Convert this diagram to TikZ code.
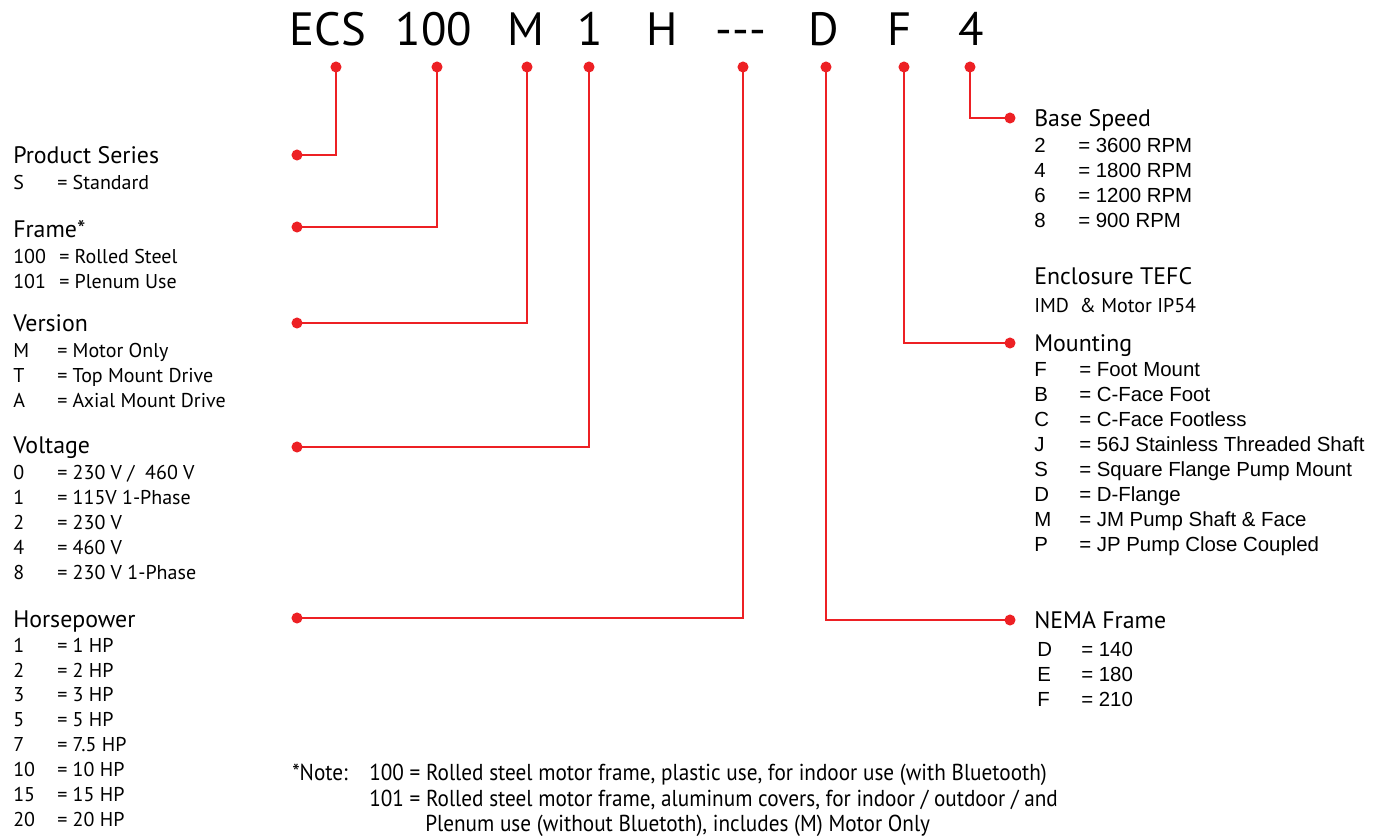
\documentclass[tikz,border=0pt]{standalone}
\usepackage{fontspec}
\setmainfont{PT Sans}
\newfontfamily\arialf{Liberation Sans}
\newfontfamily\condf[FakeStretch=0.92]{PT Sans}
\definecolor{redc}{HTML}{ED2024}
\begin{document}
\begin{tikzpicture}[x=0.75pt,y=-0.75pt,
 dot/.style={circle,fill=redc,inner sep=0pt,minimum size=8.3pt},
 conn/.style={draw=redc,line width=1.6pt},
 code/.style={anchor=base,inner sep=0pt,font=\fontsize{35}{40}\selectfont},
 head/.style={anchor=base west,inner sep=0pt,font=\fontsize{17.9}{20}\selectfont},
 item/.style={anchor=base west,inner sep=0pt,font=\fontsize{15}{17}\selectfont},
 aitem/.style={anchor=base west,inner sep=0pt,font=\arialf\fontsize{15.3}{18}\selectfont},
 note/.style={anchor=base west,inner sep=0pt,font=\condf\fontsize{17.3}{20}\selectfont}]
\useasboundingbox (0,0) rectangle (1386,836);

% top code
\node[code] (cECS) at (328,45) {ECS};
\node[code] (c100) at (434,45) {100};
\node[code] (cM) at (526,45) {M};
\node[code] (c1) at (590,45) {1};
\node[code] (cH) at (662,45) {H};
\node[code] (cDash) at (741,45) {-{}-{}-};
\node[code] (cD) at (824,45) {D};
\node[code] (cF) at (900,45) {F};
\node[code] (c4) at (971,45) {4};

% top dots
\node[dot] (tECS) at (336,67) {};
\node[dot] (t100) at (437,67) {};
\node[dot] (tM) at (527,67) {};
\node[dot] (t1) at (589,67) {};
\node[dot] (tDash) at (743,67) {};
\node[dot] (tD) at (826,67) {};
\node[dot] (tF) at (904,67) {};
\node[dot] (t4) at (970,67) {};

% end dots
\node[dot] (lPS) at (297,155) {};
\node[dot] (lFR) at (297,227) {};
\node[dot] (lVE) at (297,323) {};
\node[dot] (lVO) at (297,447) {};
\node[dot] (lHP) at (297,618) {};
\node[dot] (rBS) at (1010,118) {};
\node[dot] (rMO) at (1010,343) {};
\node[dot] (rNE) at (1010,620) {};

% connectors
\draw[conn] (tECS.center) |- (lPS.center);
\draw[conn] (t100.center) |- (lFR.center);
\draw[conn] (tM.center) |- (lVE.center);
\draw[conn] (t1.center) |- (lVO.center);
\draw[conn] (tDash.center) |- (lHP.center);
\draw[conn] (tD.center) |- (rNE.center);
\draw[conn] (tF.center) |- (rMO.center);
\draw[conn] (t4.center) |- (rBS.center);

% left column
\node[head] (hPS) at (13,163) {Product Series};
\node[item] (ps1c) at (13,189) {S};
\node[item] (ps1t) at (57,189) {= Standard};

\node[head] (hFR) at (13,237) {Frame*};
\node[item] (fr1c) at (13,263) {100};
\node[item] (fr1t) at (59,263) {= Rolled Steel};
\node[item] (fr2c) at (13,288) {101};
\node[item] (fr2t) at (59,288) {= Plenum Use};

\node[head] (hVE) at (13,331) {Version};
\foreach \c/\t [count=\i] in {M/= Motor Only, T/= Top Mount Drive, A/= Axial Mount Drive}{
  \node[item] (ve\i c) at (13,{332+25*\i}) {\c};
  \node[item] (ve\i t) at (57,{332+25*\i}) {\t};
}

\node[head] (hVO) at (13,453) {Voltage};
\foreach \c/\t [count=\i] in {0/{= 230 V /\ \ 460 V}, 1/= 115V 1-Phase, 2/= 230 V, 4/= 460 V, 8/= 230 V 1-Phase}{
  \node[item] (vo\i c) at (13,{454+25*\i}) {\c};
  \node[item] (vo\i t) at (57,{454+25*\i}) {\t};
}

\node[head] (hHP) at (13,627) {Horsepower};
\foreach \c/\t [count=\i] in {1/= 1 HP, 2/= 2 HP, 3/= 3 HP, 5/= 5 HP, 7/= 7.5 HP, 10/= 10 HP, 15/= 15 HP, 20/= 20 HP}{
  \node[item] (hp\i c) at (13,{627.2+24.9*\i}) {\c};
  \node[item] (hp\i t) at (57,{627.2+24.9*\i}) {\t};
}

% right column
\node[head] (hBS) at (1034,126) {Base Speed};
\foreach \c/\t [count=\i] in {2/= 3600 RPM, 4/= 1800 RPM, 6/= 1200 RPM, 8/= 900 RPM}{
  \node[aitem] (bs\i c) at (1034,{127+25*\i}) {\c};
  \node[aitem] (bs\i t) at (1078,{127+25*\i}) {\t};
}

\node[head] (hEN) at (1034,284) {Enclosure TEFC};
\node[item] (en1) at (1034,312) {IMD \ \& Motor IP54};

\node[head] (hMO) at (1034,351) {Mounting};
\foreach \c/\t [count=\i] in {F/= Foot Mount, B/= C-Face Foot, C/= C-Face Footless, J/= 56J Stainless Threaded Shaft, S/= Square Flange Pump Mount, D/= D-Flange, M/= JM Pump Shaft \& Face, P/= JP Pump Close Coupled}{
  \node[aitem] (mo\i c) at (1034,{352+24.9*\i}) {\c};
  \node[aitem] (mo\i t) at (1079,{352+24.9*\i}) {\t};
}

\node[head] (hNE) at (1034,628) {NEMA Frame};
\foreach \c/\t [count=\i] in {D/= 140, E/= 180, F/= 210}{
  \node[aitem] (ne\i c) at (1037,{631+25*\i}) {\c};
  \node[aitem] (ne\i t) at (1081,{631+25*\i}) {\t};
}

% note
\node[note] (n0) at (292,780) {*Note:};
\node[note] (n1) at (369,780) {100 = Rolled steel motor frame, plastic use, for indoor use (with Bluetooth)};
\node[note] (n2) at (369,806) {101 = Rolled steel motor frame, aluminum covers, for indoor / outdoor / and};
\node[note] (n3) at (425,831) {Plenum use (without Bluetoth), includes (M) Motor Only};
\end{tikzpicture}
\end{document}
